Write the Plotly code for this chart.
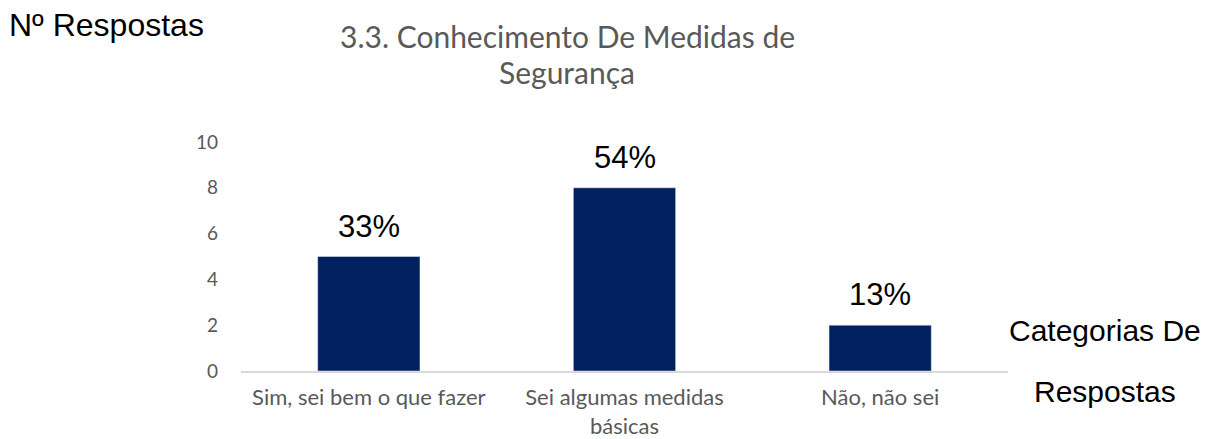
import plotly.graph_objects as go

categories = ["Sim, sei bem o que fazer", "Sei algumas medidas<br>básicas", "Não, não sei"]
values = [5, 8, 2]
pct_labels = ["33%", "54%", "13%"]
y_ticks = [0, 2, 4, 6, 8, 10]
title_lines = ["3.3. Conhecimento De Medidas de", "Segurança"]
y_title = "Nº Respostas"
x_title_lines = ["Categorias De", "Respostas"]

W, H = 1213, 439
L, R, T, B = 241, 205, 142, 68
pw = W - L - R
ph = H - T - B


def px_x(x):
    return (x - L) / pw


def px_y(y):
    return 1 - (y - T) / ph


fig = go.Figure(go.Bar(x=categories, y=values, marker_color="#002060", width=0.4,
                       hoverinfo="skip"))

for c, v, p in zip(categories, values, pct_labels):
    fig.add_annotation(x=c, y=v, text=p, showarrow=False, yanchor="bottom", yshift=11,
                       font=dict(family="Liberation Sans, Arial", size=31, color="#000000"))

for line, yp in zip(title_lines, [36, 72]):
    fig.add_annotation(xref="paper", yref="paper", x=px_x(567), y=px_y(yp), text=line,
                       showarrow=False, xanchor="center", yanchor="middle",
                       font=dict(family="Lato", size=30, color="#595959"))

fig.add_annotation(xref="paper", yref="paper", x=px_x(7), y=px_y(25), text=y_title,
                   showarrow=False, xanchor="left", yanchor="middle",
                   font=dict(family="Liberation Sans, Arial", size=32, color="#000000"))

for line, yp in zip(x_title_lines, [330, 391]):
    fig.add_annotation(xref="paper", yref="paper", x=px_x(1105), y=px_y(yp), text=line,
                       showarrow=False, xanchor="center", yanchor="middle",
                       font=dict(family="Liberation Sans, Arial", size=30, color="#000000"))

fig.update_layout(
    width=W, height=H, margin=dict(l=L, r=R, t=T, b=B, autoexpand=False),
    plot_bgcolor="white", paper_bgcolor="white", showlegend=False,
    xaxis=dict(showline=True, linecolor="#d9d9d9", linewidth=1.5, showgrid=False,
               tickfont=dict(family="Lato", size=22, color="#595959"), ticklabelstandoff=6),
    yaxis=dict(range=[0, 10], tickvals=y_ticks, showgrid=False, zeroline=False, showline=False,
               tickfont=dict(family="Lato", size=19, color="#595959"), ticklabelstandoff=22),
)

fig.write_html("out.html", config={"displayModeBar": False},
               post_script="document.body.style.margin='0';")
